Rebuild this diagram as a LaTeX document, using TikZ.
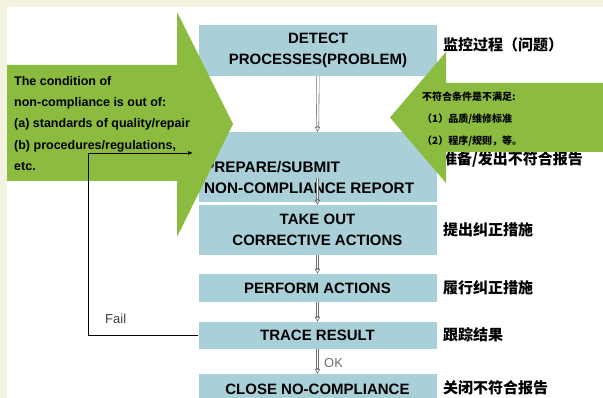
\documentclass[tikz,border=0pt]{standalone}
\usepackage{fontspec}
\setmainfont{Liberation Sans}
\newfontfamily\cjk{Noto Sans CJK SC}
\usetikzlibrary{arrows.meta}
\definecolor{beige}{HTML}{F3F1E0}
\definecolor{arrgreen}{HTML}{8CBC3F}
\definecolor{boxblue}{HTML}{A9CFD8}
\definecolor{flowgray}{HTML}{707070}
\tikzset{
  stepbox/.style={fill=boxblue, minimum width=238pt, inner sep=0pt, align=center,
    font=\fontsize{15}{20.5}\selectfont\bfseries},
  cnlabel/.style={anchor=west, inner sep=0pt, font=\cjk\bfseries\fontsize{15}{18}\selectfont},
  flowarrow/.style={draw=flowgray, line width=0.6pt, double=white, double distance=1.8pt, shorten >=4pt},
  flowtip/.style={draw=flowgray, fill=white, line width=0.6pt, shorten >=0pt,
    -{Triangle[open, length=5pt, width=5.5pt, line width=0.6pt]}},
  greenarrow/.style={fill=arrgreen, draw=none}
}
\begin{document}
\begin{tikzpicture}[x=1pt, y=-1pt]
\useasboundingbox (0,0) rectangle (603,398);
\fill[beige] (0,0) rectangle (603,398);
\fill[white] (7,7) rectangle (603,398);
\begin{scope}
\clip (0,0) rectangle (603,398);
% boxes
\node[stepbox, minimum height=51pt] (detect) at (318,50.5) {DETECT\\PROCESSES(PROBLEM)};
\node[stepbox, minimum height=70pt] (prep) at (317.5,167) {};
\node[anchor=west, inner sep=0pt, align=left, font=\fontsize{15.3}{21}\selectfont\bfseries] (preptext) at (204,177.5) {PREPARE/SUBMIT\\NON-COMPLIANCE REPORT};
\node[stepbox, minimum height=50pt] (take) at (317.5,230) {TAKE OUT\\CORRECTIVE ACTIONS};
\node[stepbox, minimum height=28pt] (perform) at (317.5,288) {PERFORM ACTIONS};
\node[stepbox, minimum height=27pt] (trace) at (317.5,335.5) {TRACE RESULT};
\node[stepbox, minimum height=30pt] (close) at (317.5,389) {CLOSE NO-COMPLIANCE};
% Chinese labels
\node[cnlabel] (cn1) at (443,45) {监控过程（问题）};
\node[cnlabel] (cn2) at (442,159) {准备/发出不符合报告};
\node[cnlabel] (cn3) at (443,230) {提出纠正措施};
\node[cnlabel] (cn4) at (443,288) {履行纠正措施};
\node[cnlabel] (cn5) at (443,335) {跟踪结果};
\node[cnlabel] (cn6) at (443,388) {关闭不符合报告};
% flow arrows
\draw[flowarrow] (detect.south) -- (prep.north);
\draw[flowtip] ([yshift=6pt]prep.north) -- (prep.north);
\draw[flowarrow] ([yshift=24pt]prep.south) -- (take.north);
\draw[flowtip] ([yshift=6pt]take.north) -- (take.north);
\draw[flowarrow] (take.south) -- (perform.north);
\draw[flowtip] ([yshift=6pt]perform.north) -- (perform.north);
\draw[flowarrow] (perform.south) -- (trace.north);
\draw[flowtip] ([yshift=6pt]trace.north) -- (trace.north);
\draw[flowarrow] (trace.south) -- (close.north);
\draw[flowtip] ([yshift=6pt]close.north) -- (close.north);
\node[anchor=west, inner sep=0pt, text=flowgray, font=\fontsize{13}{15}\selectfont] (ok) at (324,363) {OK};
% green arrows
\fill[greenarrow] (7,65) -- (177,65) -- (177,12) -- (233,124) -- (177,237) -- (177,181) -- (7,181) -- cycle;
\fill[greenarrow] (603,83) -- (446,83) -- (446,52) -- (390,117.5) -- (446,183) -- (446,152) -- (603,152) -- cycle;
% left arrow text
\node[anchor=west, inner sep=0pt, align=left, font=\fontsize{12.5}{21.3}\selectfont\bfseries] (leftnote) at (14,123.5)
  {The condition of\\non-compliance is out of:\\(a) standards of quality/repair\\(b) procedures/regulations,\\etc.};
% right arrow text
\node[anchor=west, inner sep=0pt, align=left, font=\cjk\bfseries\fontsize{10}{22}\selectfont] (rightnote) at (422,119)
  {不符合条件是不满足:\\（1）品质/维修标准\\（2）程序/规则，等。};
% fail loop
\coordinate (loopc) at (88,153);
\coordinate (loopend) at (193,153);
\draw[line width=0.7pt, -{Latex[length=5pt, width=4pt]}] (trace.west) -| (loopc) -- (loopend);
\node[anchor=west, inner sep=0pt, text=black!75, font=\fontsize{13}{15}\selectfont] (fail) at (105,319) {Fail};
\end{scope}
\end{tikzpicture}
\end{document}
